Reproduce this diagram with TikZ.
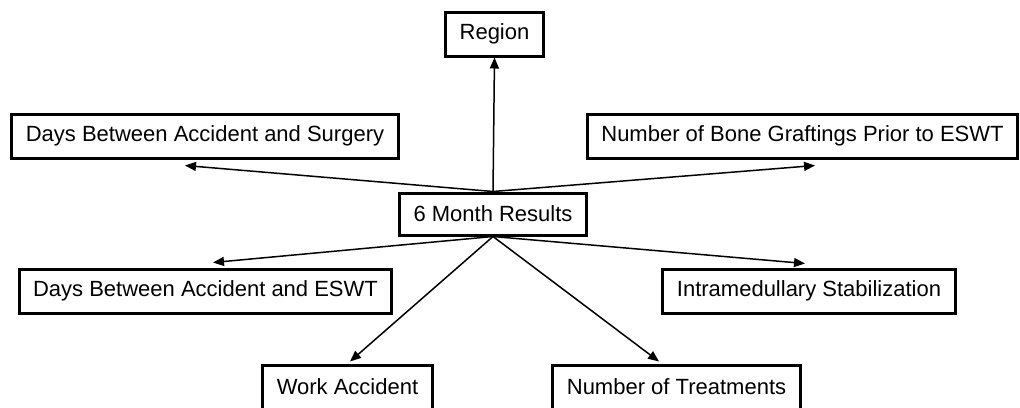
\documentclass[tikz,border=0pt]{standalone}
\usepackage{fontspec}
\setmainfont{Liberation Sans}
\usetikzlibrary{arrows.meta}
\begin{document}
\begin{tikzpicture}[
  x=1pt, y=-1pt,
  box/.style={
    draw,
    rectangle,
    line width=3pt,
    color=black,
    fill=white,
    minimum height=44pt,
    inner xsep=14pt,
    font=\fontsize{22}{26}\selectfont
  },
  box_main/.style={
    box,
    minimum height=42pt
  },
  arrow_line/.style={
    draw,
    line width=1.5pt,
    color=black,
    -{Triangle[length=11pt,width=9pt]}
  }
]%
\useasboundingbox (0,0) rectangle (1020,407);
\node [box] (region) at (494.5,34) {Region};
\node [box] (surgery) at (205,136) {Days Between Accident and Surgery};
\node [box] (graftings) at (802.5,136) {Number of Bone Graftings Prior to ESWT};
\node [box_main] (results) at (493,214) {6 Month Results};
\node [box] (eswt) at (205.5,291) {Days Between Accident and ESWT};
\node [box] (stabilization) at (809,291) {Intramedullary Stabilization};
\node [box] (work) at (347.5,387) {Work Accident};
\node [box] (treatments) at (676.5,387) {Number of Treatments};
% upward
\draw [arrow_line] (results.north) -- (region.south);
\draw [arrow_line] (results.north) -- ([xshift=-20pt,yshift=-6pt]surgery.south);
\draw [arrow_line] (results.north) -- ([xshift=12.5pt,yshift=-6pt]graftings.south);
% downward
\draw [arrow_line] (results.south) -- ([xshift=7.5pt,yshift=5pt]eswt.north);
\draw [arrow_line] (results.south) -- ([xshift=-4pt,yshift=4pt]stabilization.north);
\draw [arrow_line] (results.south) -- ([xshift=2.5pt,yshift=2pt]work.north);
\draw [arrow_line] (results.south) -- ([xshift=-17.5pt,yshift=2pt]treatments.north);
\end{tikzpicture}
\end{document}
